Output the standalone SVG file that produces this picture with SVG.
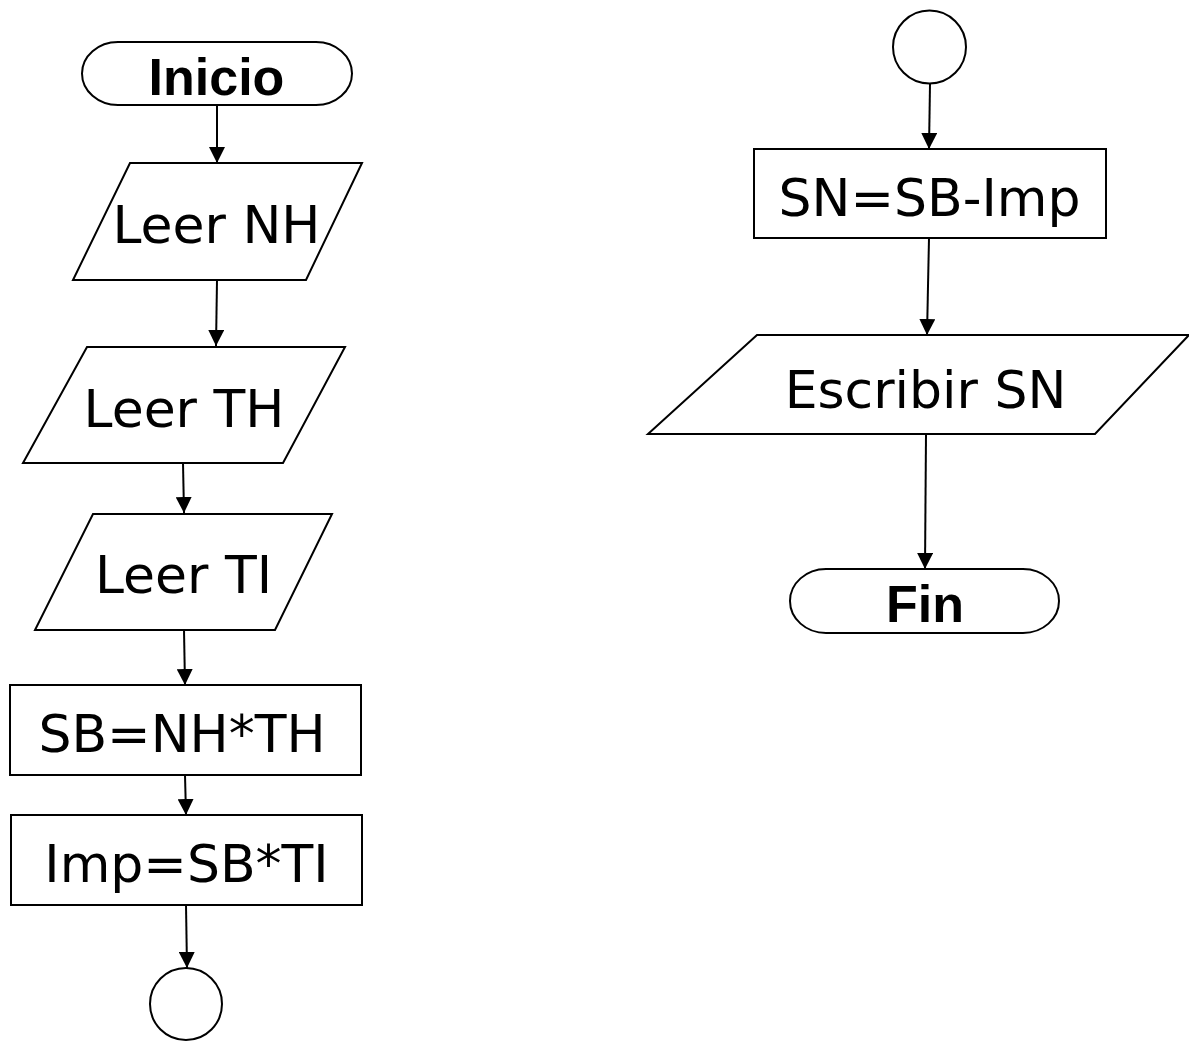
<svg xmlns="http://www.w3.org/2000/svg" width="1189" height="1043" viewBox="0 0 1189 1043">
  <style>
    .shape { fill: #ffffff; stroke: #000000; stroke-width: 2; }
    .conn { fill: none; stroke: #000000; stroke-width: 2; marker-end: url(#arrow); }
    .label { font-family: "DejaVu Sans", sans-serif; font-size: 52px; fill: #000000; text-anchor: middle; }
    .term { font-family: "Liberation Sans", Arial, sans-serif; font-weight: bold; font-size: 52px; fill: #000000; text-anchor: middle; }
  </style>
  <defs>
    <marker id="arrow" markerUnits="userSpaceOnUse" markerWidth="16" markerHeight="16" viewBox="0 0 16 16" refX="16" refY="8" orient="auto">
      <path d="M0,0 L16,8 L0,16 Z" fill="#000000"/>
    </marker>
  </defs>
  <rect width="1189" height="1043" fill="#ffffff"/>

  <!-- connectors -->
  <g id="connectors">
    <line class="conn" x1="217" y1="105" x2="217" y2="163"/>
    <line class="conn" x1="217" y1="280" x2="216" y2="346"/>
    <line class="conn" x1="183" y1="463" x2="184" y2="513"/>
    <line class="conn" x1="184" y1="630" x2="185" y2="685"/>
    <line class="conn" x1="185" y1="775" x2="186" y2="815"/>
    <line class="conn" x1="186" y1="905" x2="187" y2="968"/>
    <line class="conn" x1="930" y1="84" x2="929" y2="149"/>
    <line class="conn" x1="929" y1="238" x2="927" y2="335"/>
    <line class="conn" x1="926" y1="434" x2="925" y2="569"/>
  </g>

  <!-- left column -->
  <g id="inicio">
    <rect class="shape" x="82" y="42" width="270" height="63" rx="36" ry="31.5"/>
    <text class="term" x="216.5" y="95">Inicio</text>
  </g>
  <g id="leer-nh">
    <polygon class="shape" points="130,163 362,163 306,280 73,280"/>
    <text class="label" x="216.5" y="243">Leer NH</text>
  </g>
  <g id="leer-th">
    <polygon class="shape" points="87,347 345,347 283,463 23,463"/>
    <text class="label" x="184" y="427">Leer TH</text>
  </g>
  <g id="leer-ti">
    <polygon class="shape" points="93,514 332,514 275,630 35,630"/>
    <text class="label" x="183.5" y="593">Leer TI</text>
  </g>
  <g id="calc-sb">
    <rect class="shape" x="10" y="685" width="351" height="90"/>
    <text class="label" x="182" y="752">SB=NH*TH</text>
  </g>
  <g id="calc-imp">
    <rect class="shape" x="11" y="815" width="351" height="90"/>
    <text class="label" x="186.5" y="882">Imp=SB*TI</text>
  </g>
  <g id="connector-out">
    <circle class="shape" cx="186" cy="1004" r="36" stroke-width="1.6"/>
  </g>

  <!-- right column -->
  <g id="connector-in">
    <circle class="shape" cx="929.5" cy="47" r="36.5" stroke-width="1.6"/>
  </g>
  <g id="calc-sn">
    <rect class="shape" x="754" y="149" width="352" height="89"/>
    <text class="label" x="929.5" y="216">SN=SB-Imp</text>
  </g>
  <g id="escribir-sn">
    <polygon class="shape" points="757,335 1189,335 1095,434 648,434"/>
    <text class="label" x="925.5" y="408">Escribir SN</text>
  </g>
  <g id="fin">
    <rect class="shape" x="790" y="569" width="269" height="64" rx="36" ry="32"/>
    <text class="term" x="925" y="622">Fin</text>
  </g>
</svg>
